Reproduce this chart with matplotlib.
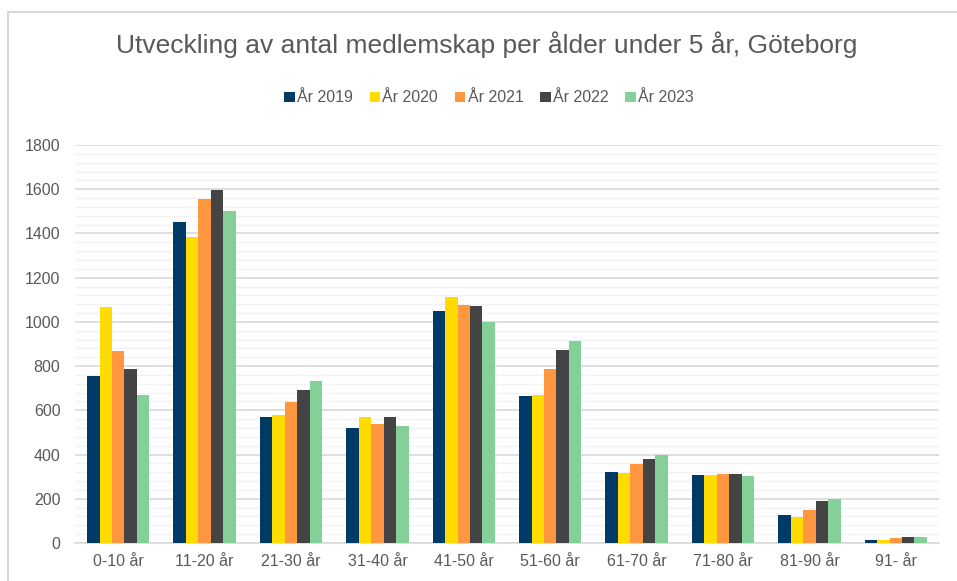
import numpy as np
import matplotlib.pyplot as plt
from matplotlib.patches import Rectangle

plt.rcParams['font.family'] = ['Liberation Sans', 'DejaVu Sans']

categories = ['0-10 år', '11-20 år', '21-30 år', '31-40 år', '41-50 år',
              '51-60 år', '61-70 år', '71-80 år', '81-90 år', '91- år']
series_names = ['År 2019', 'År 2020', 'År 2021', 'År 2022', 'År 2023']
values_2019 = [755, 1450, 568, 522, 1047, 664, 322, 307, 128, 15]
values_2020 = [1066, 1382, 581, 571, 1113, 669, 316, 307, 116, 15]
values_2021 = [867, 1555, 639, 539, 1075, 787, 359, 313, 148, 21]
values_2022 = [787, 1598, 690, 571, 1072, 871, 381, 311, 190, 29]
values_2023 = [670, 1503, 732, 530, 1000, 914, 397, 304, 201, 29]
colors = ['#003a66', '#ffdb00', '#ff9640', '#444444', '#84d098']

all_values = [values_2019, values_2020, values_2021, values_2022, values_2023]

fig = plt.figure(figsize=(9.57, 5.81), dpi=100)
ax = fig.add_axes([75 / 957, 1 - 543 / 581, (939 - 75) / 957, (543 - 145) / 581])

# chart border
fig.patches.append(Rectangle((8 / 957, -0.1), 1.2, 1 - 12 / 581 + 0.1,
                             transform=fig.transFigure, fill=False,
                             edgecolor='#d9d9d9', linewidth=1.5))

x = np.arange(len(categories))
w = 0.144
for i, (vals, name, c) in enumerate(zip(all_values, series_names, colors)):
    ax.bar(x + (i - 2) * w, vals, width=w, color=c, label=name, zorder=3)

ax.set_xlim(-0.5, len(categories) - 0.5)
ax.set_ylim(0, 1800)
ax.set_yticks(np.arange(0, 1801, 200))
ax.set_yticks(np.arange(0, 1801, 40), minor=True)
ax.yaxis.grid(True, which='major', color='#d9d9d9', linewidth=1.2, zorder=0)
ax.yaxis.grid(True, which='minor', color='#f2f2f2', linewidth=1.0, zorder=0)
ax.set_xticks(x)
ax.set_xticklabels(categories)
ax.tick_params(axis='both', which='both', length=0, labelsize=11.5, colors='#595959')
ax.tick_params(axis='y', pad=10.5)
ax.tick_params(axis='x', pad=8)
for s in ['top', 'right', 'left']:
    ax.spines[s].set_visible(False)
ax.spines['bottom'].set_color('#d9d9d9')
ax.spines['bottom'].set_linewidth(1.2)

fig.text(0.509, 1 - 45 / 581, 'Utveckling av antal medlemskap per ålder under 5 år, Göteborg',
         ha='center', va='center', fontsize=19, color='#595959')
fig.legend(loc='center', bbox_to_anchor=(0.511, 1 - 98 / 581), ncol=5, frameon=False,
           fontsize=11.5, labelcolor='#595959', handlelength=0.65, handleheight=0.65,
           handletextpad=0.15, columnspacing=1.05)

fig.savefig('out.png', dpi=100)
